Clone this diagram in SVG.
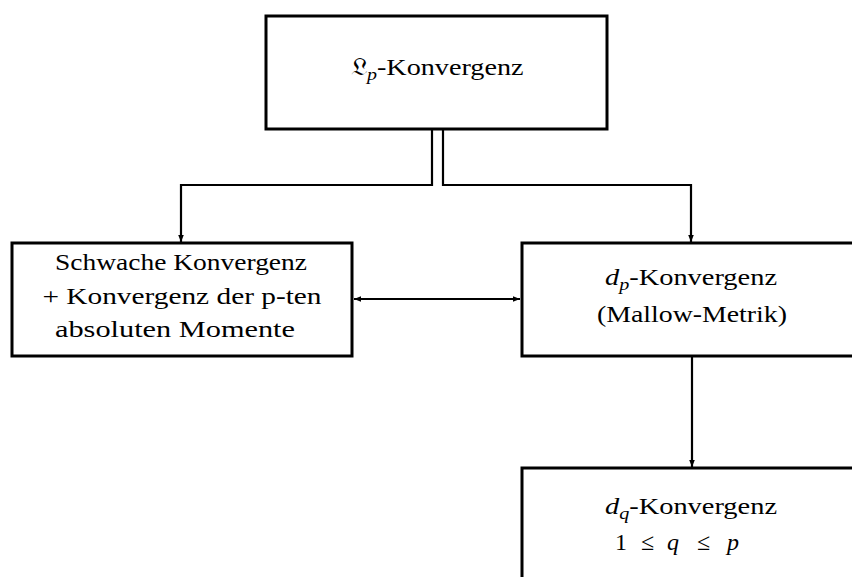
<svg xmlns="http://www.w3.org/2000/svg" width="852" height="577" viewBox="0 0 852 577">
<style>
.box{fill:#fff;stroke:#000;stroke-width:3}
.ln{fill:none;stroke:#000;stroke-width:2.2}
text{font-family:"Liberation Serif","DejaVu Serif",serif;font-size:24px;fill:#000;text-anchor:middle}
.it{font-style:italic}
</style>
<defs>
<marker id="ah" viewBox="0 0 10 10" refX="10" refY="5" markerWidth="7" markerHeight="7" markerUnits="userSpaceOnUse" orient="auto-start-reverse">
<path d="M0,1 L10,5 L0,9 Z" fill="#000"/>
</marker>
</defs>
<g id="connectors">
<path class="ln" d="M432,129 V185 H181 V242" marker-end="url(#ah)"/>
<path class="ln" d="M443,129 V185 H691 V242" marker-end="url(#ah)"/>
<path class="ln" d="M354,299 H520" marker-start="url(#ah)" marker-end="url(#ah)"/>
<path class="ln" d="M692,356 V467" marker-end="url(#ah)"/>
</g>
<g id="lp">
<rect class="box" x="266" y="16" width="341" height="113"/>
<text x="437" y="75" textLength="173" lengthAdjust="spacingAndGlyphs">𝔏<tspan class="it" font-size="17" dy="5">p</tspan><tspan dy="-5">-Konvergenz</tspan></text>
</g>
<g id="schwach">
<rect class="box" x="12" y="243" width="340" height="113"/>
<text x="181" y="270" textLength="252" lengthAdjust="spacingAndGlyphs">Schwache Konvergenz</text>
<text x="182" y="304" textLength="279" lengthAdjust="spacingAndGlyphs">+ Konvergenz der p-ten</text>
<text x="175" y="337" textLength="240" lengthAdjust="spacingAndGlyphs">absoluten Momente</text>
</g>
<g id="dp">
<rect class="box" x="522" y="243" width="340" height="113"/>
<text x="691" y="285" textLength="172" lengthAdjust="spacingAndGlyphs"><tspan class="it">d</tspan><tspan class="it" font-size="17" dy="5">p</tspan><tspan dy="-5">-Konvergenz</tspan></text>
<text x="692" y="322" textLength="190" lengthAdjust="spacingAndGlyphs">(Mallow-Metrik)</text>
</g>
<g id="dq">
<rect class="box" x="522" y="468" width="340" height="130"/>
<text x="691" y="514" textLength="172" lengthAdjust="spacingAndGlyphs"><tspan class="it">d</tspan><tspan class="it" font-size="17" dy="5">q</tspan><tspan dy="-5">-Konvergenz</tspan></text>
<text y="550" style="text-anchor:start"><tspan x="615">1</tspan><tspan x="641">≤</tspan><tspan class="it" x="667">q</tspan><tspan x="697">≤</tspan><tspan class="it" x="727">p</tspan></text>
</g>
</svg>
